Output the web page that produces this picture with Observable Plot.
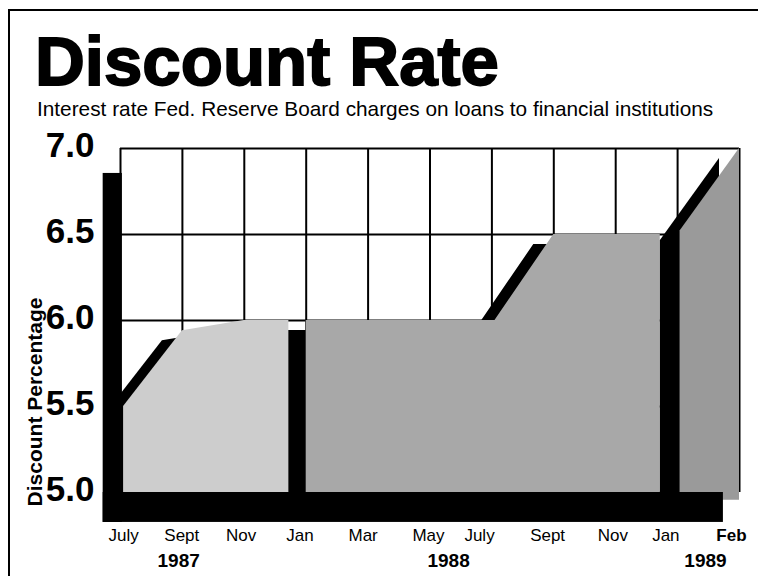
<!DOCTYPE html>
<html>
<head>
<meta charset="utf-8">
<script src="https://cdn.jsdelivr.net/npm/d3@7"></script>
<script src="https://cdn.jsdelivr.net/npm/@observablehq/plot@0.6"></script>
<style>
  html, body { margin: 0; padding: 0; background: #fff; }
  #wrap { position: relative; width: 758px; height: 576px; overflow: hidden;
          font-family: "Liberation Sans", Arial, Helvetica, sans-serif; color: #000; }
  #border { position: absolute; left: 8px; top: 9px; width: 760px; height: 580px;
            border-left: 2px solid #000; border-top: 2px solid #000; }
  #title { position: absolute; left: 35px; top: 27px; margin: 0; font-size: 69px; line-height: 69px;
           font-weight: bold; letter-spacing: 0px; -webkit-text-stroke: 1.8px #000; white-space: nowrap; }
  #subtitle { position: absolute; left: 37px; top: 98px; margin: 0; font-size: 20.8px; line-height: 22px;
              white-space: nowrap; }
  #ylabel { position: absolute; left: 35px; top: 402px; transform: translate(-50%, -50%) rotate(-90deg);
            font-size: 21px; font-weight: bold; white-space: nowrap; }
  #chart { position: absolute; left: 0; top: 120px; }
</style>
</head>
<body>
<div id="wrap">
  <div id="border"></div>
  <div id="title">Discount Rate</div>
  <div id="subtitle">Interest rate Fed. Reserve Board charges on loans to financial institutions</div>
  <div id="ylabel">Discount Percentage</div>
  <div id="chart"></div>
</div>
<script>
// ---- data ----
// x positions are in "grid column" units: 0 = July 1987 ... 10 = Feb 1989
const monthLabels = ["July", "Sept", "Nov", "Jan", "Mar", "May", "July", "Sept", "Nov", "Jan"];
const monthPos    = [0.05, 0.99, 1.95, 2.9, 3.92, 4.975, 5.8, 6.9, 7.955, 8.81];
const lastLabel   = ["Feb"];
const lastPos     = [9.87];
const yearLabels  = ["1987", "1988", "1989"];
const yearPos     = [0.94, 5.3, 9.45];
const gridCols    = [0, 1, 2, 3, 4, 5, 6, 7, 8, 9, 10];
const yTicks      = [5.0, 5.5, 6.0, 6.5, 7.0];

// discount rate, percent (three panels)
const x1987 = [0.05, 1.0, 2.0, 2.72];
const r1987 = [5.5, 5.94, 6.0, 6.0];
const x1988 = [3.0, 6.05, 7.0, 8.72];
const r1988 = [6.0, 6.0, 6.5, 6.5];
const x1989 = [9.04, 10.0];
const r1989 = [6.52, 7.0];

// 3-D depth pieces (the black wall and floor)
const wallX = [-0.28, 0.03];
const wallY = [4.826, 6.855];
const floorX = [-0.28, 9.74];
const floorY = [4.826, 5.0];

const rows = (xs, rs, base) => xs.map((x, i) => ({x, r: rs[i], base}));
const p87 = rows(x1987, r1987, 5.0);
const p88 = rows(x1988, r1988, 5.0);
const p89 = rows(x1989, r1989, 4.955);
const all = [...p87.map(d => ({...d, s: "87"})), ...p88.map(d => ({...d, s: "88"})), ...p89.map(d => ({...d, s: "89"}))];

const font = '"Liberation Sans", Arial, Helvetica, sans-serif';

const chart = Plot.plot({
  width: 758,
  height: 456,
  marginTop: 28,
  marginBottom: 84,
  marginLeft: 120,
  marginRight: 19,
  x: {domain: [0, 10], label: null},
  y: {domain: [5, 7], label: null},
  style: {fontFamily: font, color: "#000", background: "transparent", overflow: "visible"},
  marks: [
    Plot.ruleX(gridCols, {y1: 5, y2: 7, stroke: "#000", strokeWidth: 2}),
    Plot.ruleY(yTicks, {x1: 0, x2: 10, stroke: "#000", strokeWidth: 2}),
    // black depth (shadow) of each panel
    Plot.areaY(all, {x: "x", y1: "base", y2: "r", z: "s", fill: "#000", dx: -20, dy: 10}),
    Plot.rect([{x1: wallX[0], x2: wallX[1], y1: wallY[0], y2: wallY[1]}], {x1: "x1", x2: "x2", y1: "y1", y2: "y2", fill: "#000"}),
    // the three shaded panels
    Plot.areaY(p88, {x: "x", y1: "base", y2: "r", fill: "#a8a8a8"}),
    Plot.areaY(p87, {x: "x", y1: "base", y2: "r", fill: "#cdcdcd"}),
    Plot.areaY(p89, {x: "x", y1: "base", y2: "r", fill: "#9a9a9a"}),
    Plot.rect([{x1: floorX[0], x2: floorX[1], y1: floorY[0], y2: floorY[1]}], {x1: "x1", x2: "x2", y1: "y1", y2: "y2", fill: "#000"}),
    // axes
    Plot.axisY(yTicks, {anchor: "left", tickSize: 0, tickPadding: 26, fontSize: 35, fontWeight: "bold",
      dy: -3, tickFormat: d => d.toFixed(1), label: null}),
    Plot.axisX(monthPos, {anchor: "bottom", tickSize: 0, tickPadding: 36, fontSize: 17,
      tickFormat: d => monthLabels[monthPos.indexOf(d)], label: null}),
    Plot.axisX(lastPos, {anchor: "bottom", tickSize: 0, tickPadding: 36, fontSize: 17, fontWeight: "bold",
      tickFormat: d => lastLabel[lastPos.indexOf(d)], label: null}),
    Plot.axisX(yearPos, {anchor: "bottom", tickSize: 0, tickPadding: 61, fontSize: 19, fontWeight: "bold",
      tickFormat: d => yearLabels[yearPos.indexOf(d)], label: null})
  ]
});
document.getElementById("chart").appendChild(chart);
</script>
</body>
</html>
